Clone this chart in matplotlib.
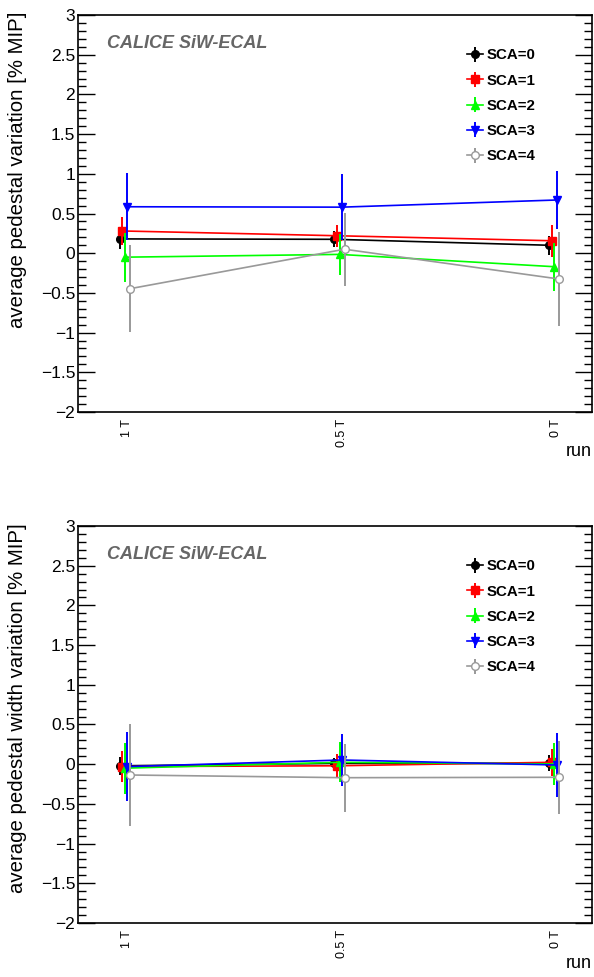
import matplotlib
matplotlib.use("Agg")
import matplotlib.pyplot as plt
import numpy as np
from matplotlib.ticker import MultipleLocator, FuncFormatter

plt.rcParams['font.family'] = ['Liberation Sans', 'DejaVu Sans']

runs = ["1 T", "0.5 T", "0 T"]
sca_labels = ["SCA=0", "SCA=1", "SCA=2", "SCA=3", "SCA=4"]
colors = ["#000000", "#ff0000", "#00ff00", "#0000ff", "#999999"]
markers = ["o", "s", "^", "v", "o"]

# top panel: average pedestal variation
ped_mean = [
    [0.18, 0.175, 0.10],
    [0.28, 0.22, 0.157],
    [-0.05, -0.015, -0.17],
    [0.585, 0.58, 0.67],
    [-0.447, 0.05, -0.325],
]
ped_err = [
    [0.13, 0.10, 0.12],
    [0.18, 0.14, 0.20],
    [0.31, 0.26, 0.30],
    [0.42, 0.42, 0.36],
    [0.55, 0.46, 0.59],
]
# bottom panel: average pedestal width variation
wid_mean = [
    [-0.02, 0.01, 0.01],
    [-0.03, -0.02, 0.024],
    [-0.05, 0.024, 0.003],
    [-0.03, 0.053, -0.01],
    [-0.136, -0.17, -0.165],
]
wid_err = [
    [0.11, 0.07, 0.10],
    [0.20, 0.15, 0.17],
    [0.32, 0.25, 0.26],
    [0.43, 0.33, 0.40],
    [0.64, 0.43, 0.46],
]

fig = plt.figure(figsize=(5.94, 9.77), dpi=100)
W, H = 594, 977
ax_left, ax_right = 78, 592


def fmt(v, pos):
    s = "%g" % round(v, 3)
    if s == "-0":
        s = "0"
    return s.replace("-", "\u2212")


def make_panel(top_px, means, errs, ylabel):
    bot_px = top_px + 397
    ax = fig.add_axes([ax_left / W, 1 - bot_px / H, (ax_right - ax_left) / W, 397 / H])
    x = np.arange(len(runs))
    handles = []
    for i in range(5):
        xs = x + (i - 2) * 0.0117
        mfc = "white" if i == 4 else colors[i]
        h = ax.errorbar(xs, means[i], yerr=errs[i], color=colors[i], marker=markers[i],
                        markersize=5.5, markerfacecolor=mfc, markeredgecolor=colors[i],
                        markeredgewidth=1.0, lw=1.2, elinewidth=1.4, capsize=0,
                        label=sca_labels[i], zorder=2 + i)
        handles.append(h)
    ax.set_xlim(-0.219, 2.177)
    ax.set_ylim(-2, 3)
    ax.set_xticks(x + 0.01)
    ax.set_xticklabels(runs, rotation=90, fontsize=9)
    ax.tick_params(axis='x', length=0, pad=5)
    ax.yaxis.set_major_locator(MultipleLocator(0.5))
    ax.yaxis.set_minor_locator(MultipleLocator(0.1))
    ax.yaxis.set_major_formatter(FuncFormatter(fmt))
    ax.tick_params(axis='y', which='major', direction='in', length=12, width=1,
                   left=True, right=True, labelsize=12.5, pad=2)
    ax.tick_params(axis='y', which='minor', direction='in', length=6, width=1,
                   left=True, right=True)
    for s in ax.spines.values():
        s.set_linewidth(1.2)
    ax.text(0.056, 0.927, "CALICE SiW-ECAL", transform=ax.transAxes, fontsize=13,
            fontweight='bold', fontstyle='italic', color='#666666', va='center', ha='left')
    ax.legend(handles=handles, loc='upper left', bbox_to_anchor=(0.757, 0.916),
              frameon=False, handlelength=1.07, handletextpad=0.2, borderpad=0,
              borderaxespad=0, labelspacing=0.75, prop={'weight': 'bold', 'size': 10.8})
    fig.text(18 / W, 1 - (top_px - 3) / H, ylabel, rotation=90, ha='center', va='top',
             fontsize=14.7)
    fig.text(ax_right / W, 1 - (bot_px + 40) / H, "run", ha='right', va='center',
             fontsize=13)
    return ax


make_panel(15, ped_mean, ped_err, "average pedestal variation [% MIP]")
make_panel(526, wid_mean, wid_err, "average pedestal width variation [% MIP]")

fig.savefig("out.png", dpi=100)
